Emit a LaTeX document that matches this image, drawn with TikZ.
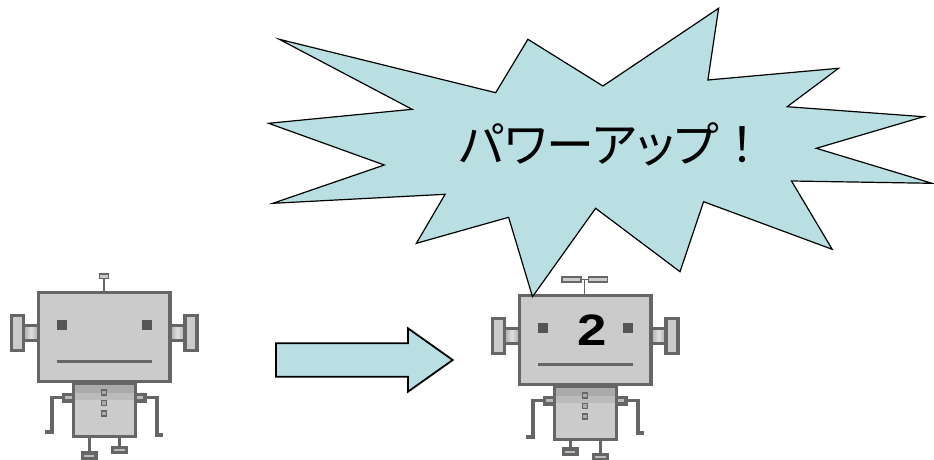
\documentclass[tikz,border=0pt]{standalone}
\usepackage{fontspec}
\setmainfont{Liberation Sans}
\newfontfamily\jpfont[RawFeature=+palt]{Noto Sans CJK JP}
\newfontfamily\jpfull{Noto Sans CJK JP}
\definecolor{burstfill}{HTML}{B9DFE3}
\definecolor{botline}{HTML}{666666}
\definecolor{botfill}{HTML}{CBCBCB}
\definecolor{botdark}{HTML}{555555}
\definecolor{bandA}{HTML}{AAAAAA}
\definecolor{bandB}{HTML}{BBBBBB}
\tikzset{
  botpart/.style={draw=botline, fill=botfill, line width=3.3pt, line join=miter},
  botlimb/.style={draw=botline, line width=3.6pt, line join=miter},
  botthin/.style={draw=botline, fill=botfill, line width=1.6pt},
  botbutton/.style={draw=botline, fill=bandA, line width=1.3pt},
  botjoint/.style={draw=botline, line width=3.3pt, left color=bandA, right color=bandA, middle color=botfill!60!white},
  burst/.style={draw=black, fill=burstfill, line width=1.2pt, line join=miter},
  bigarrow/.style={draw=black, fill=burstfill, line width=1.8pt, line join=miter},
  % common frame of a robot: head, ears, face, torso
  robotframe/.pic={
    % torso
    \path[botpart] (73.2,383.3) rectangle (135.2,436.8);
    \fill[bandA] (74.9,385) rectangle (133.5,393);
    \fill[bandB] (74.9,393) rectangle (133.5,400);
    \path[botbutton] (101.7,390) rectangle (106.7,395);
    \path[botbutton] (101.7,400.7) rectangle (106.7,405.7);
    \path[botbutton] (101.7,411) rectangle (106.7,416);
    % shoulders
    \path[botpart, fill=bandB] (63.5,394.5) rectangle (73.2,401);
    \path[botpart, fill=bandB] (135.2,394.5) rectangle (144.9,401);
    % ears
    \path[botjoint] (23.5,325.5) rectangle (38.3,340.5);
    \path[botjoint] (170.1,325.5) rectangle (184.9,340.5);
    \path[botpart] (11.5,315.5) rectangle (23.5,350.5);
    \path[botpart] (184.9,315.5) rectangle (196.9,350.5);
    % head
    \path[botpart] (38.3,292.3) rectangle (170.1,381.8);
    \fill[botdark] (56.7,320) rectangle (66.7,330);
    \fill[botdark] (141.7,320) rectangle (151.7,330);
    \draw[botline, line width=3.3pt] (56.7,361.7) -- (151.7,361.7);
  }
}
\begin{document}
\begin{tikzpicture}[x=1pt, y=-1pt]
\useasboundingbox (0,0) rectangle (934,460);

% ---- first robot ----
\begin{scope}
  \draw[botlimb] (63.5,397.5) -- (51.7,397.5) -- (51.7,432) -- (45,432);
  \draw[botlimb] (144.9,397.5) -- (156.7,397.5) -- (156.7,435) -- (163,435);
  \draw[botlimb] (89.3,437) -- (89.3,453);
  \draw[botlimb] (119.3,437) -- (119.3,447.5);
  \path[botpart, fill=bandB] (82.5,453) rectangle (96,458.3);
  \path[botpart, fill=bandB] (112.3,447.5) rectangle (126.3,452.8);
  \draw[botline, line width=1.6pt] (103.7,278.3) -- (103.7,292);
  \path[botthin] (99.3,274) rectangle (108.3,278.3);
  \pic (botA) at (0,0) {robotframe};
\end{scope}

% ---- second robot ----
\begin{scope}[shift={(481,3)}]
  \draw[botlimb] (63.5,397.5) -- (51.7,397.5) -- (51.7,434) -- (45,434);
  \draw[botlimb] (144.9,397.5) -- (156.7,397.5) -- (156.7,430) -- (163,430);
  \draw[botlimb] (89.3,437) -- (89.3,447);
  \draw[botlimb] (119.3,437) -- (119.3,452);
  \path[botpart, fill=bandB] (82.5,446) rectangle (96,451.3);
  \path[botpart, fill=bandB] (112.3,451.5) rectangle (126.3,456.8);
  \draw[botline, line width=1.6pt] (103.3,276.2) -- (103.3,292);
  \draw[botline, line width=1.2pt] (99.7,276.2) -- (107.3,276.2);
  \path[botthin] (80.7,273.7) rectangle (99.7,278.7);
  \path[botthin] (107.3,273.7) rectangle (126.3,278.7);
  \pic (botB) at (0,0) {robotframe};
  \node (two) at (110.7,327) {\scalebox{1.2}[1]{\bfseries\fontsize{44}{44}\selectfont 2}};
\end{scope}

% ---- block arrow ----
\draw[bigarrow] (276,343.3) -- (408,343.3) -- (408,328.3) -- (452.7,360)
  -- (408,391.7) -- (408,376.7) -- (276,376.7) -- cycle;

% ---- burst balloon ----
\draw[burst] (279.3,39.3) -- (495.7,92.7) -- (527.9,39.3) -- (602.9,86)
  -- (718.6,8.3) -- (707.9,80) -- (838.6,68.3) -- (787.2,106.7)
  -- (923.5,116.7) -- (816.3,148.3) -- (932,183.3) -- (791.5,181)
  -- (832.2,249.3) -- (703.6,201.7) -- (680,271.7) -- (595.6,208.3)
  -- (532.5,296.7) -- (508.6,217.3) -- (416.4,243.3) -- (445.1,194.3)
  -- (272.9,203.3) -- (384.3,165) -- (268.6,123.3) -- (412.1,109.3) -- cycle;
\node (shout) at (613,144) {\fontsize{48}{48}\selectfont\jpfont パワーアップ\jpfull ！};
\end{tikzpicture}
\end{document}
